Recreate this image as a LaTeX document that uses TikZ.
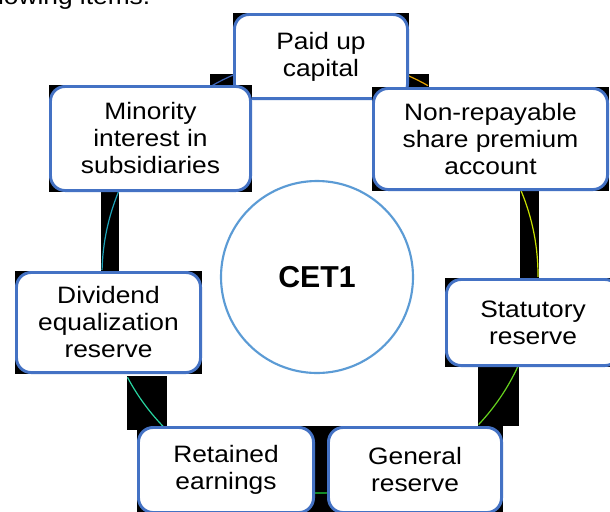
\documentclass[tikz,border=0pt]{standalone}
\usepackage{fontspec}
\setmainfont{Liberation Sans}
\newfontfamily\itemfont{Liberation Sans}[FakeStretch=1.11]
\usetikzlibrary{backgrounds}

\definecolor{boxblue}{RGB}{68,114,196}
\definecolor{ringblue}{RGB}{91,155,213}
\definecolor{linkA}{RGB}{60,98,180}
\definecolor{linkB}{RGB}{230,165,0}
\definecolor{linkC}{RGB}{200,224,0}
\definecolor{linkD}{RGB}{102,210,30}
\definecolor{linkE}{RGB}{30,212,60}
\definecolor{linkF}{RGB}{40,212,160}
\definecolor{linkG}{RGB}{31,163,185}

\tikzset{
  itembox/.style={rectangle, fill=black, inner sep=0pt, align=center,
    font=\itemfont\fontsize{17.8pt}{20.25pt}\selectfont,
    path picture={\draw[draw=boxblue, line width=2.2pt, fill=white, rounded corners=11pt]
      ([shift={(1.1pt,1.1pt)}]path picture bounding box.south west) rectangle
      ([shift={(-1.1pt,-1.1pt)}]path picture bounding box.north east);}},
  link/.style={line width=0.9pt},
  linkback/.style={fill=black, draw=black, line width=1.5pt}
}

\begin{document}
\begin{tikzpicture}[x=0.75pt,y=-0.75pt]
\useasboundingbox (0,0) rectangle (610,511);

% Text Node
\node[anchor=base east, font=\itemfont\fontsize{17.8pt}{20.25pt}\selectfont] (intro) at (155,4) {following items.};

%Cycle centre and link ends
\coordinate (hub) at (320,275);
\coordinate (l1a) at ([shift={(-120.1:218)}]hub);
\coordinate (l1b) at ([shift={(-113.3:218)}]hub);
\coordinate (l2a) at ([shift={(-66.3:218)}]hub);
\coordinate (l2b) at ([shift={(-60.3:218)}]hub);
\coordinate (l3a) at ([shift={(-22.7:218)}]hub);
\coordinate (l3b) at ([shift={(0.5:218)}]hub);
\coordinate (l4a) at ([shift={(24.9:218)}]hub);
\coordinate (l4b) at ([shift={(43.3:218)}]hub);
\coordinate (l5a) at ([shift={(88.2:218)}]hub);
\coordinate (l6a) at ([shift={(135:218)}]hub);
\coordinate (l6b) at ([shift={(152:218)}]hub);
\coordinate (l7a) at ([shift={(-178.7:218)}]hub);
\coordinate (l7b) at ([shift={(-157.6:218)}]hub);

%Curve Lines: minority -> paid up
\draw[link, draw=linkA] (l1a) arc[start angle=-120.1, end angle=-113.3, radius=218];
%Curve Lines: paid up -> share premium
\draw[link, draw=linkB] (l2a) arc[start angle=-66.3, end angle=-60.3, radius=218];
%Curve Lines: share premium -> statutory
\draw[link, draw=linkC] (l3a) arc[start angle=-22.7, end angle=0.5, radius=218];
%Curve Lines: statutory -> general
\draw[link, draw=linkD] (l4a) arc[start angle=24.9, end angle=43.3, radius=218];
%Curve Lines: general -> retained
\draw[link, draw=linkE] (l5a) arc[start angle=88.2, end angle=91.8, radius=218];
%Curve Lines: retained -> dividend
\draw[link, draw=linkF] (l6a) arc[start angle=135, end angle=152, radius=218];
%Curve Lines: dividend -> minority
\draw[link, draw=linkG] (l7a) arc[start angle=-178.7, end angle=-157.6, radius=218];

%Shape: Rounded Rect
\node[itembox, minimum width=132pt, minimum height=65.25pt] (paid) at (321,56.5) {Paid up\\capital};
%Shape: Rounded Rect
\node[itembox, minimum width=152.25pt, minimum height=80.25pt] (minority) at (150.5,138.5) {Minority\\interest in\\subsidiaries};
%Shape: Rounded Rect
\node[itembox, minimum width=177.75pt, minimum height=78pt] (premium) at (490.5,139) {Non-repayable\\share premium\\account};
%Shape: Rounded Rect
\node[itembox, minimum width=140.25pt, minimum height=77.25pt] (dividend) at (108.5,322.5) {Dividend\\equalization\\reserve};
%Shape: Rounded Rect
\node[itembox, minimum width=132pt, minimum height=66.75pt] (statutory) at (533,322.5) {Statutory\\reserve};
%Shape: Rounded Rect
\node[itembox, minimum width=132pt, minimum height=66pt] (general) at (415,470) {General\\reserve};
%Shape: Rounded Rect
\node[itembox, minimum width=133.5pt, minimum height=66pt] (retained) at (226,470) {Retained\\earnings};

%Shape: Circle
\node[circle, draw=ringblue, line width=1.6pt, fill=white, minimum size=144pt, inner sep=0pt,
  font=\bfseries\fontsize{22.7pt}{27pt}\selectfont] (cet) at (317,277) {CET1};

%page and black backs of the links
\begin{scope}[on background layer]
\fill[white] (0,0) rectangle (610,511);
\filldraw[linkback] (l1a) rectangle (l1b);
\filldraw[linkback] (l2a) rectangle (l2b);
\filldraw[linkback] (l3a) rectangle (l3b);
\filldraw[linkback] (l4a) rectangle (l4b);
\fill (retained.north east) rectangle (general.south west);
\filldraw[linkback] (l6a) rectangle (l6b);
\filldraw[linkback] (l7a) rectangle (l7b);
\end{scope}

\end{tikzpicture}
\end{document}
